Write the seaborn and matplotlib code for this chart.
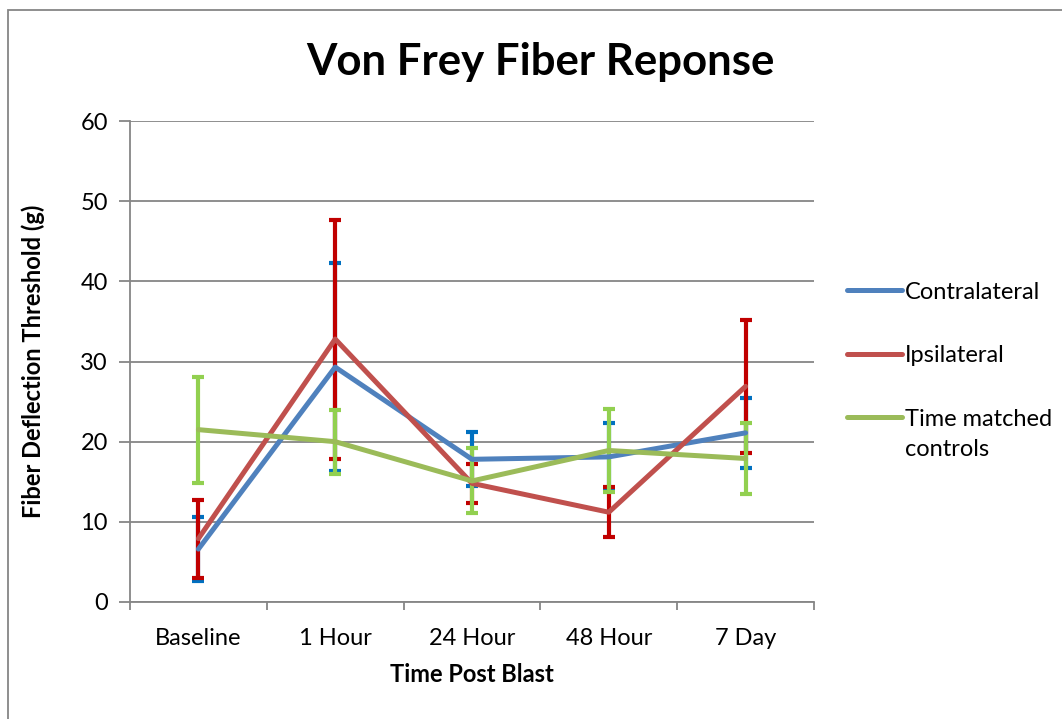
import numpy as np
import pandas as pd
import matplotlib
matplotlib.use("Agg")
import matplotlib.pyplot as plt
from matplotlib.patches import Rectangle
import seaborn as sns

# data
time_points = ["Baseline", "1 Hour", "24 Hour", "48 Hour", "7 Day"]
series_names = ["Contralateral", "Ipsilateral", "Time matched controls"]

contralateral = [6.6, 29.3, 17.8, 18.1, 21.1]
contralateral_err = [4.0, 13.0, 3.35, 4.2, 4.4]

ipsilateral = [7.9, 32.8, 14.8, 11.2, 26.9]
ipsilateral_err = [4.85, 14.9, 2.4, 3.1, 8.3]

controls = [21.5, 20.0, 15.1, 18.9, 17.9]
controls_err = [6.6, 4.0, 4.05, 5.15, 4.45]

line_colors = ["#4F81BD", "#C0504D", "#9BBB59"]
err_colors = ["#0070C0", "#C00000", "#92D050"]

sns.set_theme(style="white")
plt.rcParams["font.family"] = ["Lato", "DejaVu Sans"]
plt.rcParams["text.color"] = "black"
plt.rcParams["axes.labelcolor"] = "black"
plt.rcParams["xtick.labelcolor"] = "black"
plt.rcParams["ytick.labelcolor"] = "black"

df = pd.DataFrame({
    "time": time_points * 3,
    "value": contralateral + ipsilateral + controls,
    "series": np.repeat(series_names, len(time_points)),
})

fig = plt.figure(figsize=(10.62, 7.19), dpi=100)
ax = fig.add_axes([130 / 1062, 1 - 602 / 719, 684 / 1062, 481 / 719])

# error bars first, lines on top
all_vals = [contralateral, ipsilateral, controls]
all_errs = [contralateral_err, ipsilateral_err, controls_err]
xpos = np.arange(len(time_points))
for vals, errs, c in zip(all_vals, all_errs, err_colors):
    ax.errorbar(xpos, vals, yerr=errs, fmt="none", ecolor=c,
                elinewidth=3, capsize=4.6, capthick=3)

sns.lineplot(
    data=df,
    x="time",
    y="value",
    hue="series",
    palette=line_colors,
    linewidth=3.6,
    sort=False,
    ax=ax,
)

ax.set_xlim(-0.5, len(time_points) - 0.5)
ax.set_ylim(0, 60)
ax.set_yticks(range(0, 61, 10))
ax.yaxis.grid(True, color="#868686", linewidth=1.3)
ax.set_axisbelow(True)

for s in ["top", "right"]:
    ax.spines[s].set_visible(False)
for s in ["left", "bottom"]:
    ax.spines[s].set_color("#868686")
    ax.spines[s].set_linewidth(1.3)

ax.set_xticks(xpos)
ax.set_xticks(np.arange(-0.5, len(time_points)), minor=True)
ax.tick_params(axis="x", which="major", length=0, pad=19, labelsize=17)
ax.tick_params(axis="x", which="minor", length=6, width=1.3, color="#868686",
               direction="out", bottom=True)
ax.tick_params(axis="y", length=8, width=1.3, color="#868686", direction="out",
               left=True, pad=8, labelsize=17)

ax.set_xlabel("Time Post Blast", fontsize=17, fontweight="bold", labelpad=10)
ax.set_ylabel("")
fig.text(33 / 1062, 1 - 361 / 719, "Fiber Deflection Threshold (g)",
         rotation=90, ha="center", va="center", fontsize=17, fontweight="bold")

fig.text(540 / 1062, 1 - 62 / 719, "Von Frey Fiber Reponse",
         ha="center", va="center", fontsize=31.5, fontweight="bold")

leg = ax.legend(loc="upper left", bbox_to_anchor=(1.0175, 0.71), frameon=False,
                fontsize=17, handlelength=2.33, handletextpad=0.12,
                labelspacing=1.8)
for h in leg.get_lines():
    h.set_linewidth(3.6)
# Excel wraps the last label, with the line beside the first row
leg.texts[2].set_text("Time matched")
fig.text(905 / 1062, 1 - 449 / 719, "controls", ha="left", va="center",
         fontsize=17)

# chart frame
fig.add_artist(Rectangle((8 / 1062, -0.5), 2, 0.5 + 1 - 10 / 719,
                         transform=fig.transFigure, fill=False,
                         edgecolor="#868686", linewidth=1.3))

fig.savefig("out.png", dpi=100)
